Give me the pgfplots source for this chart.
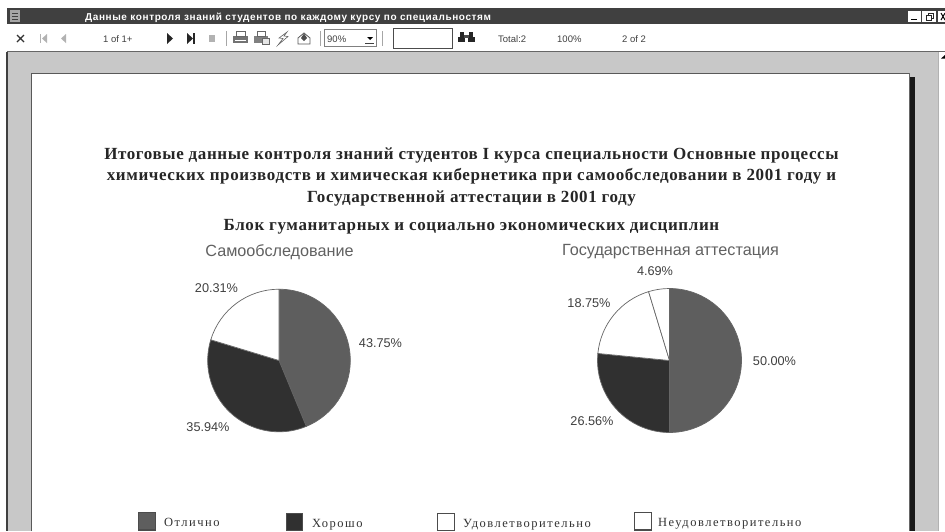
\documentclass[border=0pt]{standalone}
\usepackage{fontspec}
\setmainfont{Liberation Serif}
\setsansfont{Liberation Sans}
\newfontfamily\headingfont[LetterSpace=3.6]{Liberation Serif}
\newfontfamily\legendfont[LetterSpace=12]{Liberation Serif}
\newfontfamily\barfont[LetterSpace=6]{Liberation Sans}
\usepackage{pgfplots}
\usepackage{pgfplotstable}
\pgfplotsset{compat=1.18}

\definecolor{barDark}{HTML}{404040}
\definecolor{pageGrey}{HTML}{C8C8C8}
\definecolor{sliceA}{HTML}{5E5E5E}
\definecolor{sliceB}{HTML}{303030}

% Pie slices: centre, radius, cumulative start (%), share (%), grey level
\pgfplotstableread{
cx cy radius start share shade
279 360.5 71.3 0     43.75 63
279 360.5 71.3 43.75 35.94 81
279 360.5 71.3 79.69 20.31 0
}\selfcheck
\pgfplotstableread{
cx cy radius start share shade
669.5 360.5 72 0     50.00 63
669.5 360.5 72 50.00 26.56 81
669.5 360.5 72 76.56 18.75 0
669.5 360.5 72 95.31 4.69  0
}\stateexam

% One slice, clockwise from twelve o'clock
\pgfdeclareplotmark{slice}{%
  \pgfmathsetmacro\angA{90-3.6*\startv}%
  \pgfmathsetmacro\angB{90-3.6*(\startv+\sharev)}%
  \pgfsetfillcolor{black!\shadev}%
  \pgfsetstrokecolor{black!60}%
  \pgfsetlinewidth{0.7pt}%
  \pgfpathmoveto{\pgfpointorigin}%
  \pgfpathlineto{\pgfpointpolar{\angA}{\radiusv pt}}%
  \pgfpatharc{\angA}{\angB}{\radiusv pt}%
  \pgfpathclose
  \pgfusepath{fill,stroke}%
}

\begin{document}
\begin{tikzpicture}
\begin{axis}[
  scale only axis, width=945pt, height=531pt,
  xmin=0, xmax=945, ymin=0, ymax=531, y dir=reverse,
  hide axis, clip=true,
]
% window frame
\fill[white] (axis cs:0,0) rectangle (axis cs:945,531);
\fill[barDark] (axis cs:7,8) rectangle (axis cs:945,24);
\fill[pageGrey] (axis cs:7,52) rectangle (axis cs:938,531);
\draw[black!60,line width=1pt] (axis cs:7,51.5) -- (axis cs:945,51.5);
\fill[black!75] (axis cs:6,52) rectangle (axis cs:8,531);
\draw[black!30,line width=0.6pt] (axis cs:938,52) -- (axis cs:938,531);
\fill[white] (axis cs:32,73) rectangle (axis cs:910,531);
\draw[black!65,line width=1pt] (axis cs:31.5,531) -- (axis cs:31.5,73) -- (axis cs:909.5,73);
\draw[black!60,line width=0.8pt] (axis cs:909.5,73) -- (axis cs:909.5,531);
\fill[black!90] (axis cs:910,77) rectangle (axis cs:915,531);

% title bar
\fill[black!35] (axis cs:10,10) rectangle (axis cs:20,22);
\draw[black!75,line width=0.7pt] (axis cs:12,13) -- (axis cs:18,13) (axis cs:12,16) -- (axis cs:18,16) (axis cs:12,19) -- (axis cs:18,19);
\node[anchor=base west,white,inner sep=0pt,font=\barfont\bfseries\fontsize{10}{12}\selectfont] at (axis cs:85,20) {Данные контроля знаний студентов по каждому курсу по специальностям};
\fill[white] (axis cs:908,11) rectangle (axis cs:921,22);
\fill[white] (axis cs:922,11) rectangle (axis cs:936,22);
\fill[white] (axis cs:938,11) rectangle (axis cs:945,22);
\draw[black,line width=1pt] (axis cs:911,19.5) -- (axis cs:917,19.5);
\draw[black!85,line width=0.8pt] (axis cs:926,15) rectangle (axis cs:931,20);
\draw[black!85,line width=0.8pt] (axis cs:928,15) -- (axis cs:928,13) -- (axis cs:933,13) -- (axis cs:933,18) -- (axis cs:931,18);
\draw[black,line width=1pt] (axis cs:941,13) -- (axis cs:945,20) (axis cs:945,13) -- (axis cs:941,20);

% toolbar
\draw[black!80,line width=1.4pt] (axis cs:17,35) -- (axis cs:24,42) (axis cs:24,35) -- (axis cs:17,42);
\fill[black!30] (axis cs:40,34) rectangle (axis cs:41,43);
\fill[black!30] (axis cs:47,34) -- (axis cs:42,38.5) -- (axis cs:47,43) -- cycle;
\fill[black!30] (axis cs:66,34) -- (axis cs:61,38.5) -- (axis cs:66,43) -- cycle;
\fill[black!85] (axis cs:167,33) -- (axis cs:173,38.5) -- (axis cs:167,44) -- cycle;
\fill[black!85] (axis cs:187,33) -- (axis cs:193,38.5) -- (axis cs:187,44) -- cycle;
\fill[black!85] (axis cs:193,33) rectangle (axis cs:195,44);
\fill[black!30] (axis cs:209,35) rectangle (axis cs:215,42);
\draw[black!35,line width=0.7pt] (axis cs:226,31) -- (axis cs:226,46);
% print, export and mail buttons
\fill[black!55] (axis cs:233,36) rectangle (axis cs:248,43);
\fill[white] (axis cs:236,31) rectangle (axis cs:245,36);
\draw[black!60,line width=0.7pt] (axis cs:236,31) rectangle (axis cs:245,36);
\draw[white,line width=0.7pt] (axis cs:235,40) -- (axis cs:246,40);
\fill[black!50] (axis cs:254,36) rectangle (axis cs:268,43);
\fill[white] (axis cs:257,31) rectangle (axis cs:265,36);
\draw[black!60,line width=0.7pt] (axis cs:257,31) rectangle (axis cs:265,36);
\fill[black!10] (axis cs:262,38) rectangle (axis cs:269,44);
\draw[black!60,line width=0.5pt] (axis cs:262,38) rectangle (axis cs:269,44);
\draw[black!60,line width=0.6pt] (axis cs:287,32) -- (axis cs:279,38) -- (axis cs:283,38.5) -- (axis cs:278,45) -- (axis cs:288,36.5) -- (axis cs:284,36) -- cycle;
\draw[black!65,line width=0.8pt] (axis cs:298,38) -- (axis cs:304,33) -- (axis cs:310,38) -- (axis cs:310,44) -- (axis cs:298,44) -- cycle;
\fill[black!70] (axis cs:301,38) -- (axis cs:304,33.5) -- (axis cs:307,38) -- (axis cs:304,41) -- cycle;
\draw[black!35,line width=0.7pt] (axis cs:320,31) -- (axis cs:320,46);
\draw[black!50,line width=0.9pt] (axis cs:324.5,29.5) rectangle (axis cs:376.5,46.5);
\draw[black!75,line width=0.9pt] (axis cs:365,43.5) -- (axis cs:374,43.5);
\fill[black] (axis cs:367,37) -- (axis cs:373,37) -- (axis cs:370,40) -- cycle;
\draw[black!35,line width=0.7pt] (axis cs:382,31) -- (axis cs:382,46);
\draw[black!70,line width=0.8pt] (axis cs:393,28.5) rectangle (axis cs:452,48);
% search button
\fill[black!85] (axis cs:458,37) rectangle (axis cs:465,42);
\fill[black!85] (axis cs:468,37) rectangle (axis cs:475,42);
\fill[black!85] (axis cs:460,32) rectangle (axis cs:464,37);
\fill[black!85] (axis cs:469,32) rectangle (axis cs:473,37);
\fill[black!70] (axis cs:464,35) rectangle (axis cs:469,38);
\begin{scope}[every node/.style={inner sep=0pt,anchor=base west,text=black!75,font=\sffamily\fontsize{9.5}{11}\selectfont}]
\node at (axis cs:103,42) {1 of 1+};
\node at (axis cs:327,42) {90\%};
\node at (axis cs:498,42) {Total:2};
\node at (axis cs:557,42) {100\%};
\node at (axis cs:622,42) {2 of 2};
\end{scope}
% scroll bar
\fill[black] (axis cs:941,58.5) -- (axis cs:945,58.5) -- (axis cs:945,55) -- cycle;

% report heading
\begin{scope}[every node/.style={inner sep=0pt,anchor=base,text=black!85,font=\headingfont\bfseries\fontsize{17}{20}\selectfont}]
\node at (axis cs:471.5,159) {Итоговые данные контроля знаний студентов I курса специальности Основные процессы};
\node at (axis cs:471.5,180) {химических производств и химическая кибернетика при самообследовании в 2001 году и};
\node at (axis cs:471.5,202) {Государственной аттестации в 2001 году};
\node at (axis cs:471.5,230) {Блок гуманитарных и социально экономических дисциплин};
\end{scope}

% pies
\addplot[only marks, mark=slice,
    visualization depends on={\thisrow{start}\as\startv},
    visualization depends on={\thisrow{share}\as\sharev},
    visualization depends on={\thisrow{shade}\as\shadev},
    visualization depends on={\thisrow{radius}\as\radiusv}]
  table[x=cx,y=cy] {\selfcheck};
\addplot[only marks, mark=slice,
    visualization depends on={\thisrow{start}\as\startv},
    visualization depends on={\thisrow{share}\as\sharev},
    visualization depends on={\thisrow{shade}\as\shadev},
    visualization depends on={\thisrow{radius}\as\radiusv}]
  table[x=cx,y=cy] {\stateexam};

\begin{scope}[every node/.style={inner sep=0pt,text=black!62,font=\sffamily\fontsize{16.2}{18}\selectfont}]
\node at (axis cs:279.5,252) {Самообследование};
\node at (axis cs:670.5,252) {Государственная аттестация};
\end{scope}
\begin{scope}[every node/.style={inner sep=0pt,text=black!75,font=\sffamily\fontsize{12.7}{15}\selectfont}]
\node at (axis cs:216.5,288) {20.31\%};
\node at (axis cs:380.5,343) {43.75\%};
\node at (axis cs:208,427) {35.94\%};
\node at (axis cs:655,271) {4.69\%};
\node at (axis cs:589,303) {18.75\%};
\node at (axis cs:774.5,361) {50.00\%};
\node at (axis cs:592,421) {26.56\%};
\end{scope}

% legend
\draw[fill=sliceA,draw=black!70,line width=1.4pt] (axis cs:138.7,512.7) rectangle (axis cs:155.3,529.8);
\draw[fill=sliceB,draw=black!70,line width=1.4pt] (axis cs:286.7,513.7) rectangle (axis cs:302.3,530.3);
\draw[fill=white,draw=black!70,line width=1.4pt] (axis cs:437.7,513.7) rectangle (axis cs:454.3,530.3);
\draw[fill=white,draw=black!70,line width=1.4pt] (axis cs:634.7,512.7) rectangle (axis cs:651.3,529.8);
\begin{scope}[every node/.style={inner sep=0pt,anchor=base west,text=black!80,font=\legendfont\fontsize{12.5}{15}\selectfont}]
\node at (axis cs:164,526) {Отлично};
\node at (axis cs:312,527) {Хорошо};
\node at (axis cs:463,527) {Удовлетворительно};
\node at (axis cs:658,526) {Неудовлетворительно};
\end{scope}
\end{axis}
\end{tikzpicture}
\end{document}
